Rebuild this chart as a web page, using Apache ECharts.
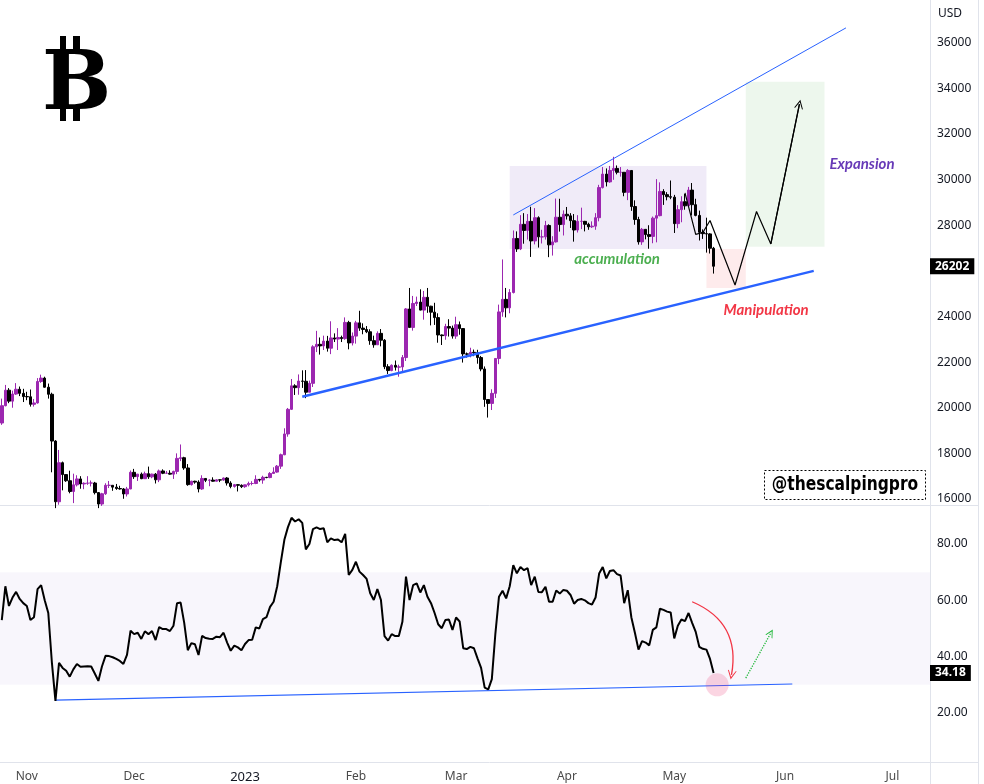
<!DOCTYPE html>
<html>
<head>
<meta charset="utf-8">
<title>BTCUSD – accumulation / manipulation / expansion</title>
<script src="https://cdn.jsdelivr.net/npm/echarts@6/dist/echarts.min.js"></script>
<style>
  html, body { margin: 0; padding: 0; background: #fff; }
  #chart { width: 984px; height: 784px; }
</style>
</head>
<body>
<div id="chart"></div>
<script>
// daily candles start 2022-10-25, axis runs on to 2023-07-11
const firstDay = '2022-10-25';
const dayCount = 260;

// [open, close, low, high] per day, Oct 25 2022 -> May 12 2023
const ohlc = [
  [19330, 20090, 19250, 20400], [20090, 20770, 20060, 21000], [20770, 20290, 20200, 20860], [20290, 20600, 20000, 20750],
  [20600, 20810, 20560, 21080], [20810, 20630, 20510, 20930], [20630, 20490, 20250, 20830],
  // Nov
  [20490, 20480, 20330, 20700], [20480, 20150, 20050, 20800], [20150, 20210, 20050, 20380], [20210, 21150, 20180, 21300],
  [21150, 21300, 21090, 21450], [21300, 20900, 20880, 21360], [20900, 20590, 20400, 21060], [20590, 18540, 17170, 20660],
  [18540, 15880, 15600, 18580], [15880, 17590, 15750, 18150], [17590, 17070, 16380, 17640], [17070, 16800, 16750, 17080],
  [16800, 16330, 16250, 17240], [16330, 16620, 15820, 17110], [16620, 16880, 16550, 17040], [16880, 16660, 16450, 17000],
  [16660, 16690, 16430, 16730], [16690, 16700, 16620, 17000], [16700, 16700, 16550, 16810], [16700, 16280, 16200, 16750],
  [16280, 15780, 15600, 16300], [15780, 16230, 15700, 16270], [16230, 16600, 16180, 16690], [16600, 16600, 16480, 16790],
  [16600, 16520, 16360, 16600], [16520, 16460, 16400, 16660], [16460, 16440, 16410, 16580], [16440, 16220, 16010, 16480],
  [16220, 16440, 16110, 16530], [16440, 17170, 16430, 17250],
  // Dec
  [17170, 16980, 16880, 17320], [16980, 17090, 16790, 17100], [17090, 16890, 16870, 17160], [16890, 17110, 16880, 17200],
  [17110, 16970, 16880, 17420], [16970, 17090, 16910, 17110], [17090, 16840, 16680, 17140], [16840, 17230, 16740, 17290],
  [17230, 17130, 17090, 17300], [17130, 17130, 17110, 17230], [17130, 17090, 17070, 17260], [17090, 17210, 16880, 17240],
  [17210, 17780, 17090, 18000], [17780, 17810, 17660, 18390], [17810, 17360, 17280, 17850], [17360, 16630, 16580, 17530],
  [16630, 16780, 16590, 16800], [16780, 16740, 16670, 16800], [16740, 16440, 16290, 16820], [16440, 16900, 16400, 17040],
  [16900, 16820, 16740, 16900], [16820, 16830, 16560, 16860], [16830, 16780, 16760, 16950], [16780, 16840, 16790, 16860],
  [16840, 16830, 16740, 16860], [16830, 16920, 16800, 16940], [16920, 16700, 16590, 16960], [16700, 16550, 16470, 16780],
  [16550, 16630, 16500, 16660], [16630, 16600, 16330, 16650], [16600, 16540, 16480, 16640],
  // Jan
  [16540, 16620, 16490, 16630], [16620, 16680, 16550, 16760], [16680, 16680, 16600, 16780], [16680, 16860, 16650, 17040],
  [16860, 16830, 16760, 16880], [16830, 16950, 16670, 17020], [16950, 16940, 16910, 16970], [16940, 17120, 16910, 17180],
  [17120, 17180, 17120, 17390], [17180, 17440, 17150, 17490], [17440, 17940, 17320, 17990], [17940, 18850, 17920, 19100],
  [18850, 19930, 18730, 19990], [19930, 20960, 19900, 21260], [20960, 20880, 20560, 21030], [20880, 21170, 20570, 21460],
  [21170, 21160, 20870, 21640], [21160, 20680, 20420, 21650], [20680, 21070, 20680, 21190], [21070, 22670, 20910, 22740],
  [22670, 22780, 22440, 23370], [22780, 22710, 22330, 23080], [22710, 22920, 22530, 23160], [22920, 22610, 22460, 23150],
  [22610, 23060, 22350, 23790], [23060, 23010, 22880, 23260], [23010, 23080, 22530, 23490], [23080, 23030, 22880, 23160],
  [23030, 23740, 22980, 23960], [23740, 22840, 22560, 23810], [22840, 23140, 22730, 23300],
  // Feb
  [23140, 23720, 22810, 23810], [23720, 23490, 23370, 24250], [23490, 23430, 23220, 23700], [23430, 23330, 23270, 23580],
  [23330, 22940, 22760, 23440], [22940, 22760, 22630, 23160], [22760, 23260, 22750, 23350], [23260, 22960, 22690, 23450],
  [22960, 21800, 21690, 23010], [21800, 21630, 21480, 21910], [21630, 21860, 21600, 21900], [21860, 21780, 21630, 22070],
  [21780, 21790, 21360, 21890], [21790, 22200, 21530, 22310], [22200, 24330, 22050, 24370], [24330, 23520, 23510, 25250],
  [23520, 24570, 23380, 24900], [24570, 24630, 24460, 24870], [24630, 24280, 24270, 25190], [24280, 24840, 23860, 25120],
  [24840, 24450, 24160, 25250], [24450, 24190, 23610, 24470], [24190, 23950, 23630, 24600], [23950, 23190, 22850, 24140],
  [23190, 23160, 22750, 23210], [23160, 23560, 22980, 23680], [23560, 23490, 23120, 23880], [23490, 23140, 23030, 23600],
  // Mar
  [23140, 23640, 23020, 23990], [23640, 23470, 23200, 23780], [23470, 22360, 21980, 23480], [22360, 22350, 22200, 22420],
  [22350, 22430, 22210, 22630], [22430, 22410, 22260, 22550], [22410, 22200, 21930, 22540], [22200, 21700, 21600, 22270],
  [21700, 20360, 20040, 21810], [20360, 20190, 19570, 20370], [20190, 20630, 19900, 20810], [20630, 22160, 20430, 22180],
  [22160, 24200, 21910, 24520], [24200, 24750, 23990, 26500], [24750, 24380, 23960, 25250], [24380, 25050, 24140, 25200],
  [25050, 27420, 25010, 27770], [27420, 26960, 26830, 27730], [26960, 28040, 26910, 28440], [28040, 27770, 27190, 28530],
  [27770, 28170, 27370, 28490], [28170, 27310, 26610, 28810], [27310, 28330, 27160, 28750], [28330, 27490, 27020, 28390],
  [27490, 27490, 27200, 27800], [27490, 27990, 27370, 28190], [27990, 27140, 26600, 28040], [27140, 27270, 26670, 27520],
  [27270, 28350, 27240, 29170], [28350, 28030, 27720, 29160], [28030, 28480, 27550, 28650],
  // Apr
  [28480, 28410, 28250, 28800], [28410, 28200, 27880, 28530], [28200, 27790, 27280, 28490], [27790, 28170, 27680, 28440],
  [28170, 28170, 27830, 28770], [28170, 28040, 27730, 28190], [28040, 27930, 27800, 28110], [27930, 27960, 27880, 28170],
  [27960, 28330, 27800, 28530], [28330, 29650, 28170, 29770], [29650, 30240, 29610, 30550], [30240, 29900, 29700, 30490],
  [29900, 30400, 29860, 30600], [30400, 30490, 29990, 31000], [30490, 30320, 30230, 30620], [30320, 30320, 30130, 30550],
  [30320, 29440, 29270, 30320], [29440, 30400, 29100, 30460], [30400, 28820, 28630, 30410], [28820, 28250, 28020, 29090],
  [28250, 27270, 27150, 28370], [27270, 27820, 27140, 27880], [27820, 27590, 27380, 27820], [27590, 27510, 26970, 28000],
  [27510, 28310, 27210, 28380], [28310, 28420, 27250, 30020], [28420, 29480, 28390, 29880], [29480, 29340, 28890, 29580],
  [29340, 29250, 29090, 29450], [29250, 29230, 29140, 29960],
  // May
  [29230, 28070, 27660, 29330], [28070, 28680, 27870, 28880], [28680, 29030, 28130, 29270], [29030, 28850, 28680, 29370],
  [28850, 29540, 28820, 29680], [29540, 28900, 28430, 29850], [28900, 28430, 28390, 29160], [28430, 27690, 27330, 28640],
  [27690, 27630, 27400, 27820], [27630, 27620, 26800, 28330], [27620, 26990, 26760, 27650], [26990, 26202, 25880, 27050]
];

const rsi = [
  53, 65, 58, 61, 63, 60.5, 59,
  58, 53, 54, 64, 65.4, 60, 55.5, 38, 24.3, 37.8, 36, 35, 32.9, 35.5, 37.4, 36.4, 36.5, 36.6, 36.5, 34, 31.4, 36.5,
  40.3, 40.2, 39.8, 39.2, 38.5, 37.4, 40.6, 49.2,
  48, 48.5, 46.3, 49, 48, 49.1, 45.9, 50.5, 49.8, 49.8, 49.1, 51, 59, 59.2, 52, 42.3, 44.8, 44.4, 40.6, 47.4, 46.6,
  46.4, 46.3, 47.1, 46.9, 48.5, 45, 42.1, 43.9, 43.3, 42.3,
  44.5, 45.9, 46, 50.4, 50, 53.3, 54, 57.7, 59.5, 65, 73.5, 81.5, 86, 89.3, 88, 88.8, 87.5, 78.1, 80, 85.3, 85.9,
  85.3, 85.6, 80.6, 82, 81.4, 81.6, 80.6, 83.6, 69, 70.8,
  73.7, 70.2, 69, 67.6, 62.5, 60.1, 64, 60.1, 47.3, 45.7, 48, 47.3, 47.3, 52.4, 68.4, 60.1, 65.4, 66, 62.8, 65.4,
  61.3, 59, 55.5, 51.5, 50.1, 53, 53.2, 49.5,
  53.9, 52.5, 43, 42.7, 43.5, 43, 39.4, 36, 29, 28.4, 32, 48.3, 61.3, 63.4, 60.7, 65, 72.5, 69.6, 71.8, 70.7, 71.4,
  65.4, 68.4, 63, 62.9, 64.8, 59.5, 59.5, 63.5, 62.4, 63.7,
  63.4, 61.9, 58.8, 60.1, 60.5, 60, 59, 58.5, 61, 69.5, 71.8, 67.8, 70.4, 70.7, 69.3, 68.8, 59, 63.6, 54, 48.5,
  42.5, 45.5, 45, 44, 49.5, 50.4, 57, 56.6, 56, 55.7,
  46.5, 51, 53.2, 52.6, 55.5, 52, 48.8, 43.5, 42.8, 42.5, 39.2, 34.18
];

// drawn annotations, [date, price]
const upperTrend = [['2023-03-17', 28450], ['2023-06-18', 36650]];
const lowerTrend = [['2023-01-17', 20480], ['2023-06-09', 26000]];
const projection = [
  ['2023-05-04', 29420], ['2023-05-07', 27600], ['2023-05-09', 27680], ['2023-05-11', 28210],
  ['2023-05-18', 25380], ['2023-05-24', 28600], ['2023-05-28', 27180], ['2023-06-05', 33310]
];
const accumulationZone = [['2023-03-16', 30600], ['2023-05-10', 26960]];
const manipulationZone = [['2023-05-10', 26960], ['2023-05-21', 25250]];
const expansionZone = [['2023-05-21', 34290], ['2023-06-12', 27060]];

// [date, rsi]
const rsiSupport = [['2022-11-09', 24.6], ['2023-06-03', 30.3]];
const rsiDropArrow = [['2023-05-06', 59.5], ['2023-05-17', 33.5]];
const rsiBounceArrow = [['2023-05-21', 32.4], ['2023-05-28', 48.4]];
const rsiTouch = ['2023-05-13', 30];

const monthNames = ['Jan', 'Feb', 'Mar', 'Apr', 'May', 'Jun', 'Jul', 'Aug', 'Sep', 'Oct', 'Nov', 'Dec'];

const days = [];
const t0 = Date.parse(firstDay + 'T00:00:00Z');
for (let i = 0; i < dayCount; i++) {
  days.push(new Date(t0 + i * 86400000).toISOString().slice(0, 10));
}
// lines series wants numeric x on a category axis
const toIdx = p => [days.indexOf(p[0]), p[1]];

const upColor = '#9c27b0';
const downColor = '#000000';
const blue = '#2962ff';
const lastPrice = ohlc[ohlc.length - 1][1];
const lastRsi = rsi[rsi.length - 1];
const chevron = 'path://M0,12 L6,0 L12,12 L10.6,12 L6,3.2 L1.4,12 Z';
const noteFont = { fontFamily: 'Lato', fontStyle: 'italic', fontWeight: 'bold', fontSize: 15 };

const chart = echarts.init(document.getElementById('chart'));

const option = {
  animation: false,
  backgroundColor: '#fff',
  grid: [
    { left: 0, top: 0, width: 930, height: 505, outerBoundsMode: 'none' },
    { left: 0, top: 505, width: 930, height: 257, outerBoundsMode: 'none' }
  ],
  xAxis: [
    {
      type: 'category', gridIndex: 0, data: days, boundaryGap: true,
      axisLine: { show: false }, axisTick: { show: false }, axisLabel: { show: false }, splitLine: { show: false }
    },
    {
      type: 'category', gridIndex: 1, data: days, boundaryGap: true,
      axisLine: { show: false }, axisTick: { show: false }, splitLine: { show: false },
      axisLabel: {
        interval: (idx, v) => v.slice(8) === '01',
        margin: 9,
        fontSize: 12,
        fontFamily: 'Noto Sans',
        color: '#4a4a4a',
        formatter: v => {
          const m = +v.slice(5, 7);
          return m === 1 ? '{y|' + v.slice(0, 4) + '}' : monthNames[m - 1];
        },
        rich: { y: { fontSize: 13, fontFamily: 'Noto Sans', color: '#131722' } }
      }
    }
  ],
  yAxis: [
    {
      type: 'value', gridIndex: 0, position: 'right', min: 15737, max: 37872, splitNumber: 10,
      axisLine: { show: false }, axisTick: { show: false }, splitLine: { show: false },
      axisLabel: {
        showMinLabel: false, showMaxLabel: false, margin: 7, align: 'left',
        fontSize: 12, fontFamily: 'Noto Sans', color: '#131722',
        formatter: v => String(v)
      }
    },
    {
      type: 'value', gridIndex: 1, position: 'right', min: 2.6, max: 93.85, splitNumber: 5,
      axisLine: { show: false }, axisTick: { show: false }, splitLine: { show: false },
      axisLabel: {
        showMinLabel: false, showMaxLabel: false, margin: 7, align: 'left',
        fontSize: 12, fontFamily: 'Noto Sans', color: '#131722',
        formatter: v => v.toFixed(2)
      }
    }
  ],
  series: [
    // shaded zones behind the candles
    {
      name: 'zones', type: 'line', xAxisIndex: 0, yAxisIndex: 0, data: [], z: 1, silent: true,
      markArea: {
        silent: true,
        data: [
          [{ coord: accumulationZone[0], itemStyle: { color: 'rgba(103,58,183,0.1)' },
             label: Object.assign({ show: true, position: 'bottom', distance: 3, offset: [9, 0], color: '#4caf50', formatter: 'accumulation' }, noteFont) },
           { coord: accumulationZone[1] }],
          [{ coord: manipulationZone[0], itemStyle: { color: 'rgba(242,54,69,0.1)' },
             label: Object.assign({ show: true, position: 'bottom', distance: 15, offset: [40, 0], color: '#f23645', formatter: 'Manipulation' }, noteFont) },
           { coord: manipulationZone[1] }],
          [{ coord: expansionZone[0], itemStyle: { color: 'rgba(76,175,80,0.1)' },
             label: Object.assign({ show: true, position: 'right', distance: 5, color: '#673ab7', formatter: 'Expansion' }, noteFont) },
           { coord: expansionZone[1] }]
        ]
      }
    },
    {
      name: 'BTCUSD', type: 'candlestick', xAxisIndex: 0, yAxisIndex: 0, data: ohlc, barWidth: 3, z: 3,
      itemStyle: { color: upColor, color0: downColor, borderColor: upColor, borderColor0: downColor, borderWidth: 1 },
      markLine: {
        silent: true, symbol: 'none',
        lineStyle: { color: 'transparent', width: 0 },
        label: {
          position: 'end', distance: 0, backgroundColor: '#000', color: '#fff',
          fontWeight: 'bold', fontSize: 12, fontFamily: 'Noto Sans', padding: [2, 5, 2, 5],
          formatter: String(lastPrice)
        },
        data: [{ yAxis: lastPrice }]
      }
    },
    {
      name: 'upper', type: 'line', xAxisIndex: 0, yAxisIndex: 0, data: upperTrend, z: 4,
      showSymbol: false, silent: true, lineStyle: { color: blue, width: 1 }
    },
    {
      name: 'lower', type: 'line', xAxisIndex: 0, yAxisIndex: 0, data: lowerTrend, z: 4,
      showSymbol: false, silent: true, lineStyle: { color: blue, width: 2.5 }
    },
    {
      name: 'path', type: 'line', xAxisIndex: 0, yAxisIndex: 0, data: projection, z: 5,
      showSymbol: false, silent: true, lineStyle: { color: '#000', width: 1.2 },
      markLine: {
        silent: true, symbol: ['none', chevron], symbolSize: 9,
        label: { show: false },
        lineStyle: { color: '#000', width: 1.2, type: 'solid' },
        data: [[{ coord: projection[6] }, { coord: projection[7] }]]
      }
    },
    // RSI pane
    {
      name: 'band', type: 'line', xAxisIndex: 1, yAxisIndex: 1, data: [], z: 1, silent: true,
      markArea: { silent: true, itemStyle: { color: 'rgba(126,87,194,0.05)' }, data: [[{ yAxis: 70 }, { yAxis: 30 }]] },
      // green dotted "bounce" arrow
      markLine: {
        silent: true, symbol: ['none', chevron], symbolSize: 8,
        label: { show: false },
        lineStyle: { color: '#22b83a', width: 1.3, type: 'dotted' },
        data: [[{ coord: rsiBounceArrow[0] }, { coord: rsiBounceArrow[1] }]]
      }
    },
    {
      name: 'support', type: 'line', xAxisIndex: 1, yAxisIndex: 1, data: rsiSupport, z: 2,
      showSymbol: false, silent: true, lineStyle: { color: blue, width: 1.2 },
      markPoint: {
        silent: true, symbol: 'circle', symbolSize: 23,
        itemStyle: { color: 'rgba(236,64,122,0.22)' }, label: { show: false },
        data: [{ coord: rsiTouch }]
      }
    },
    // red curved "drop" arrow
    {
      name: 'drop', type: 'lines', coordinateSystem: 'cartesian2d', xAxisIndex: 1, yAxisIndex: 1, z: 4,
      silent: true, symbol: ['none', chevron], symbolSize: 9,
      lineStyle: { color: '#f23645', width: 1.3, opacity: 1, curveness: 0.4 },
      data: [{ coords: rsiDropArrow.map(toIdx) }]
    },
    {
      name: 'RSI', type: 'line', xAxisIndex: 1, yAxisIndex: 1, data: rsi, z: 3,
      showSymbol: false, silent: true, lineStyle: { color: '#000', width: 2 },
      markLine: {
        silent: true, symbol: 'none',
        lineStyle: { color: 'transparent', width: 0 },
        label: {
          position: 'end', distance: 0, backgroundColor: '#000', color: '#fff',
          fontWeight: 'bold', fontSize: 12, fontFamily: 'Noto Sans', padding: [2, 5, 2, 5],
          formatter: lastRsi.toFixed(2)
        },
        data: [{ yAxis: lastRsi }]
      }
    }
  ],
  graphic: [
    // pane frame
    { type: 'line', silent: true, shape: { x1: 930.5, y1: 0, x2: 930.5, y2: 784 }, style: { stroke: '#e0e3eb', lineWidth: 1 } },
    { type: 'line', silent: true, shape: { x1: 978.5, y1: 0, x2: 978.5, y2: 784 }, style: { stroke: '#e0e3eb', lineWidth: 1 } },
    { type: 'line', silent: true, shape: { x1: 0, y1: 505.5, x2: 979, y2: 505.5 }, style: { stroke: '#e0e3eb', lineWidth: 1 } },
    { type: 'line', silent: true, shape: { x1: 0, y1: 762.5, x2: 979, y2: 762.5 }, style: { stroke: '#e0e3eb', lineWidth: 1 } },
    { type: 'text', silent: true, x: 938, y: 8, style: { text: 'USD', font: '12px "Noto Sans"', fill: '#131722' } },
    // bitcoin mark
    {
      type: 'group', silent: true, x: 0, y: 0,
      children: [
        { type: 'rect', shape: { x: 60, y: 36, width: 6, height: 16 }, style: { fill: '#000' } },
        { type: 'rect', shape: { x: 73, y: 36, width: 7, height: 16 }, style: { fill: '#000' } },
        { type: 'rect', shape: { x: 60, y: 107, width: 6, height: 14 }, style: { fill: '#000' } },
        { type: 'rect', shape: { x: 73, y: 107, width: 7, height: 14 }, style: { fill: '#000' } },
        { type: 'text', style: { text: 'B', x: 42, y: 88, verticalAlign: 'middle', font: 'bold 82px "DejaVu Serif"', fill: '#000' } }
      ]
    },
    // handle box
    {
      type: 'group', silent: true, x: 764, y: 470,
      children: [
        { type: 'rect', shape: { x: 0.5, y: 0.5, width: 161, height: 29 }, style: { fill: '#fff', stroke: '#000', lineWidth: 1, lineDash: [2, 2] } },
        { type: 'text', x: 81, y: 15, scaleX: 0.86, style: { text: '@thescalpingpro', x: 0, y: 0, align: 'center', verticalAlign: 'middle',
          font: 'bold 20px "DejaVu Sans Condensed", "Liberation Sans Narrow", Roboto', fill: '#000' } }
      ]
    }
  ]
};

chart.setOption(option);
</script>
</body>
</html>
